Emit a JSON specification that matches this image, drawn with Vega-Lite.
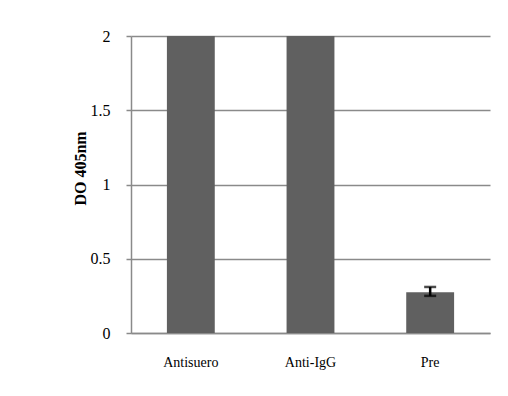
{
  "$schema": "https://vega.github.io/schema/vega-lite/v6.json",
  "autosize": "none",
  "width": 359,
  "height": 297,
  "padding": {"left": 131, "top": 36, "right": 18, "bottom": 63},
  "background": "white",
  "config": {
    "view": {"stroke": null},
    "font": "Liberation Serif"
  },
  "data": {
    "values": [
      {"grupo": "Antisuero", "DO": 2.0, "lo": null, "hi": null},
      {"grupo": "Anti-IgG", "DO": 2.0, "lo": null, "hi": null},
      {"grupo": "Pre", "DO": 0.275, "lo": 0.25, "hi": 0.31}
    ]
  },
  "encoding": {
    "x": {
      "field": "grupo",
      "type": "nominal",
      "sort": null,
      "scale": {"paddingInner": 0.6, "paddingOuter": 0.3},
      "axis": {
        "title": null,
        "labelAngle": 0,
        "labelFont": "Liberation Serif",
        "labelFontSize": 14,
        "labelColor": "#000",
        "labelPadding": 22,
        "ticks": false,
        "domain": true,
        "domainColor": "#8a8a8a",
        "domainWidth": 1.5
      }
    }
  },
  "layer": [
    {
      "mark": {"type": "bar", "color": "#606060"},
      "encoding": {
        "y": {
          "field": "DO",
          "type": "quantitative",
          "scale": {"domain": [0, 2], "nice": false},
          "axis": {
            "title": "DO 405nm",
            "titleFont": "Liberation Serif",
            "titleFontSize": 16,
            "titleFontWeight": "bold",
            "titleColor": "#000",
            "titleX": -51,
            "titleY": 132,
            "titleBaseline": "middle",
            "values": [0, 0.5, 1, 1.5, 2],
            "labelExpr": "datum.value == 0 ? '0' : datum.value == 1 ? '1' : datum.value == 2 ? '2' : datum.label",
            "labelFont": "Liberation Serif",
            "labelFontSize": 16,
            "labelColor": "#000",
            "labelPadding": 16,
            "tickSize": 5,
            "tickColor": "#8a8a8a",
            "tickWidth": 1.5,
            "domainColor": "#8a8a8a",
            "domainWidth": 1.5,
            "grid": true,
            "gridColor": "#8a8a8a",
            "gridWidth": 1.5
          }
        }
      }
    },
    {
      "transform": [{"filter": "datum.lo != null"}],
      "mark": {"type": "rule", "color": "#000", "strokeWidth": 2.5},
      "encoding": {
        "y": {"field": "lo", "type": "quantitative"},
        "y2": {"field": "hi"}
      }
    },
    {
      "transform": [{"filter": "datum.lo != null"}],
      "mark": {"type": "tick", "color": "#000", "thickness": 2.5, "size": 12},
      "encoding": {"y": {"field": "lo", "type": "quantitative"}}
    },
    {
      "transform": [{"filter": "datum.lo != null"}],
      "mark": {"type": "tick", "color": "#000", "thickness": 2.5, "size": 12},
      "encoding": {"y": {"field": "hi", "type": "quantitative"}}
    }
  ]
}
